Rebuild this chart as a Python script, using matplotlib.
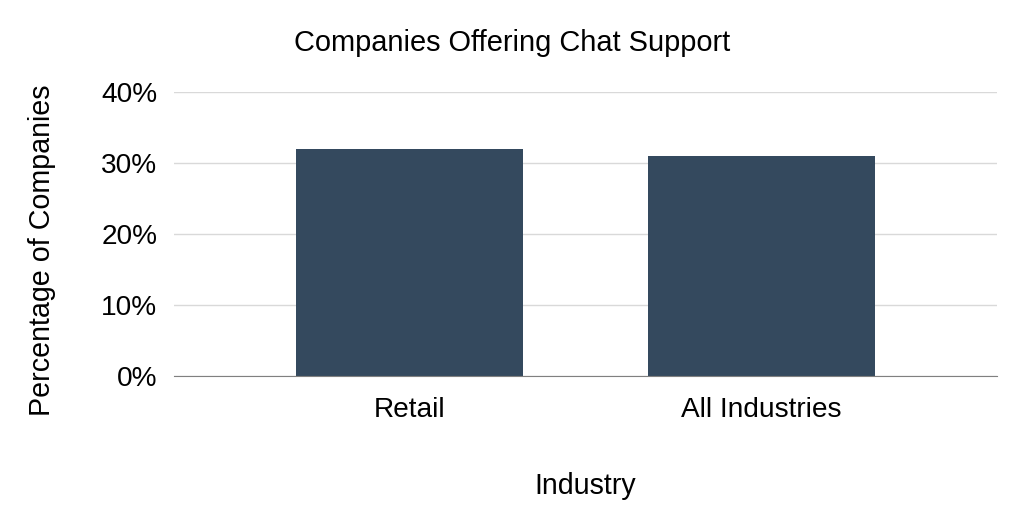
import numpy as np
import matplotlib.pyplot as plt
from matplotlib.ticker import PercentFormatter

plt.rcParams['font.family'] = ['Liberation Sans', 'DejaVu Sans']

industries = ['Retail', 'All Industries']
share = [0.32, 0.31]
yticks = [0.0, 0.1, 0.2, 0.3, 0.4]

fig = plt.figure(figsize=(10.24, 5.26), dpi=100)
ax = fig.add_axes([0.170, 0.285, 0.8036, 0.5395])

x = np.arange(len(industries))
ax.bar(x, share, width=0.646, color='#34495e', zorder=3)

ax.set_xlim(-0.671, 1.67)
ax.set_ylim(0, 0.4)
ax.set_yticks(yticks)
ax.yaxis.set_major_formatter(PercentFormatter(1.0, decimals=0))
ax.set_xticks(x)
ax.set_xticklabels(industries)

ax.grid(axis='y', color='#d9d9d9', linewidth=1, zorder=0)
for s in ['top', 'right', 'left']:
    ax.spines[s].set_visible(False)
ax.spines['bottom'].set_color('#808080')
ax.spines['bottom'].set_zorder(4)
ax.tick_params(axis='both', length=0, labelsize=20.2, colors='#000000')
ax.tick_params(axis='y', pad=12)
ax.tick_params(axis='x', pad=15)

ax.set_ylabel('Percentage of Companies', fontsize=20.6, va='center')
ax.yaxis.set_label_coords(-0.161, 0.444)
ax.set_xlabel('Industry', fontsize=20.6, labelpad=35)
fig.text(0.5, 0.918, 'Companies Offering Chat Support', ha='center', va='center', fontsize=20.9)

fig.savefig('out.png', dpi=100)
